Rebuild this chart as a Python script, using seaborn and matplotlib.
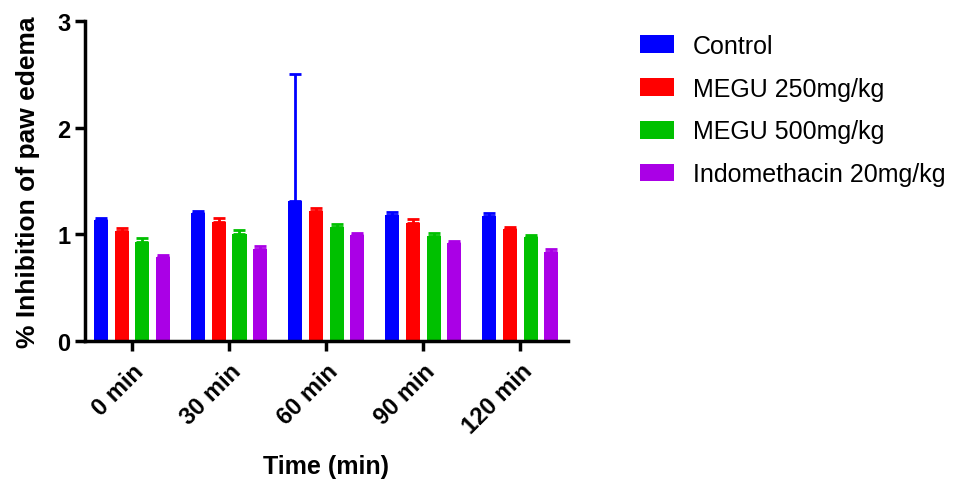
import matplotlib
matplotlib.use("Agg")
import matplotlib.pyplot as plt
import seaborn as sns
import pandas as pd
import numpy as np
from matplotlib.patches import Patch

times = ["0 min", "30 min", "60 min", "90 min", "120 min"]
groups = ["Control", "MEGU 250mg/kg", "MEGU 500mg/kg", "Indomethacin 20mg/kg"]
control = [1.13, 1.20, 1.31, 1.18, 1.17]
megu250 = [1.03, 1.12, 1.22, 1.11, 1.05]
megu500 = [0.93, 1.00, 1.07, 0.98, 0.975]
indo = [0.79, 0.86, 0.99, 0.92, 0.83]
control_err = [0.02, 0.02, 1.19, 0.03, 0.03]
megu250_err = [0.03, 0.03, 0.03, 0.03, 0.02]
megu500_err = [0.04, 0.04, 0.03, 0.03, 0.015]
indo_err = [0.02, 0.03, 0.02, 0.02, 0.03]
colors = ["#0000FF", "#FF0000", "#00C000", "#AA00E6"]

sns.set_style("white")
plt.rcParams["font.family"] = ["Liberation Sans", "DejaVu Sans"]
plt.rcParams["text.color"] = "black"
plt.rcParams["axes.labelcolor"] = "black"
plt.rcParams["xtick.color"] = "black"
plt.rcParams["ytick.color"] = "black"

vals = [control, megu250, megu500, indo]
errs = [control_err, megu250_err, megu500_err, indo_err]
rows = []
for g, v, e in zip(groups, vals, errs):
    for t, vi, ei in zip(times, v, e):
        rows.append({"Time": t, "Group": g, "Value": vi, "Err": ei})
df = pd.DataFrame(rows)

fig = plt.figure(figsize=(9.58, 4.81), dpi=100)
ax = fig.add_axes([85 / 958, 1 - 342 / 481, (568 - 85) / 958, (342 - 22) / 481])

sns.barplot(data=df, x="Time", y="Value", hue="Group", order=times, hue_order=groups,
            palette=colors, width=0.85, gap=0.32, errorbar=None, ax=ax, legend=False,
            saturation=1, edgecolor="none")

# error bars (upper only) using patch positions
for gi, g in enumerate(groups):
    cont = ax.containers[gi]
    for bi, bar in enumerate(cont):
        x = bar.get_x() + bar.get_width() / 2
        h = bar.get_height()
        ax.errorbar(x, h, yerr=[[0], [errs[gi][bi]]], fmt="none", ecolor=colors[gi],
                    elinewidth=2, capsize=4, capthick=2, zorder=3)

ax.set_xlim(-0.485, 4.49)
ax.set_ylim(0, 3)
ax.set_yticks([0, 1, 2, 3])
for s in ["top", "right"]:
    ax.spines[s].set_visible(False)
for s in ["left", "bottom"]:
    ax.spines[s].set_linewidth(2.5)
    ax.spines[s].set_color("black")
ax.tick_params(axis="both", which="major", direction="out", length=7, width=2.5,
               color="black", labelsize=17, bottom=True, left=True, labelcolor="black")
for lbl in ax.get_yticklabels():
    lbl.set_fontweight("bold")
ax.set_xticks(range(len(times)))
ax.set_xticklabels(times, rotation=45, ha="right", rotation_mode="anchor",
                   fontweight="bold", fontsize=17)
ax.tick_params(axis="x", pad=6)
ax.set_xlabel("Time (min)", fontsize=18, fontweight="bold", labelpad=12)
ax.set_ylabel("% Inhibition of paw edema", fontsize=19, fontweight="bold", labelpad=12)

handles = [Patch(facecolor=c, edgecolor="none") for c in colors]
fig.legend(handles, groups, loc="upper left", bbox_to_anchor=(640 / 958, 1 - 35 / 481),
           frameon=False, fontsize=18, handlelength=1.36, handleheight=0.72,
           labelspacing=0.75, handletextpad=0.76, borderpad=0, borderaxespad=0)

fig.savefig("out.png", dpi=100)
